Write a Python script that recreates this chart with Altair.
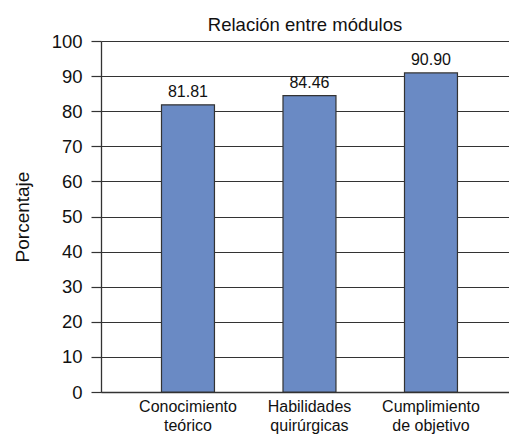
import altair as alt
import pandas as pd

categories = ["Conocimiento teórico", "Habilidades quirúrgicas", "Cumplimiento de objetivo"]
values = [81.81, 84.46, 90.90]
value_labels = ["81.81", "84.46", "90.90"]
y_ticks = [0, 10, 20, 30, 40, 50, 60, 70, 80, 90, 100]

df = pd.DataFrame({"cat": categories, "val": values, "lbl": value_labels})

FONT = "Liberation Sans, Arial, sans-serif"

base = alt.Chart(df).encode(
    x=alt.X(
        "cat:N",
        sort=categories,
        title=None,
        scale=alt.Scale(paddingInner=0.564, paddingOuter=0.461, align=0.54),
        axis=alt.Axis(
            labelAngle=0,
            ticks=False,
            domain=True,
            domainColor="#333333",
            domainWidth=1.3,
            labelFont=FONT,
            labelFontSize=16,
            labelColor="#111111",
            labelPadding=6,
            labelLineHeight=19,
            labelBaseline="top",
            labelExpr="[substring(datum.value, 0, indexof(datum.value, ' ')), substring(datum.value, indexof(datum.value, ' ') + 1)]",
        ),
    ),
    y=alt.Y(
        "val:Q",
        title="Porcentaje",
        scale=alt.Scale(domain=[0, 100], nice=False),
        axis=alt.Axis(
            values=y_ticks,
            grid=True,
            gridColor="#333333",
            gridWidth=1.2,
            gridOpacity=1,
            domain=True,
            domainColor="#333333",
            domainWidth=1.3,
            tickColor="#333333",
            tickSize=10,
            tickWidth=1.2,
            labelFont=FONT,
            labelFontSize=18.5,
            labelColor="#111111",
            labelPadding=9,
            titleFont=FONT,
            titleFontSize=19,
            titleFontWeight="normal",
            titleColor="#111111",
            titlePadding=19,
        ),
    ),
)

bars = base.mark_bar(color="#6a8ac4", stroke="#333333", strokeWidth=1.2)
text = base.mark_text(dy=-5, baseline="bottom", font=FONT, fontSize=16, color="#111111").encode(
    text="lbl:N"
)

chart = (
    (bars + text)
    .properties(
        width=408,
        height=351,
        padding={"left": 93, "top": 33, "right": 0, "bottom": 42},
        autosize=alt.AutoSizeParams(type="none"),
        title=alt.TitleParams(
            "Relación entre módulos",
            font=FONT,
            fontSize=18.5,
            fontWeight="normal",
            color="#111111",
            anchor="middle",
            offset=11,
            dy=13,
        ),
    )
    .configure_view(stroke=None)
)

chart.save("out.html", embed_options={"renderer": "svg", "actions": False})
